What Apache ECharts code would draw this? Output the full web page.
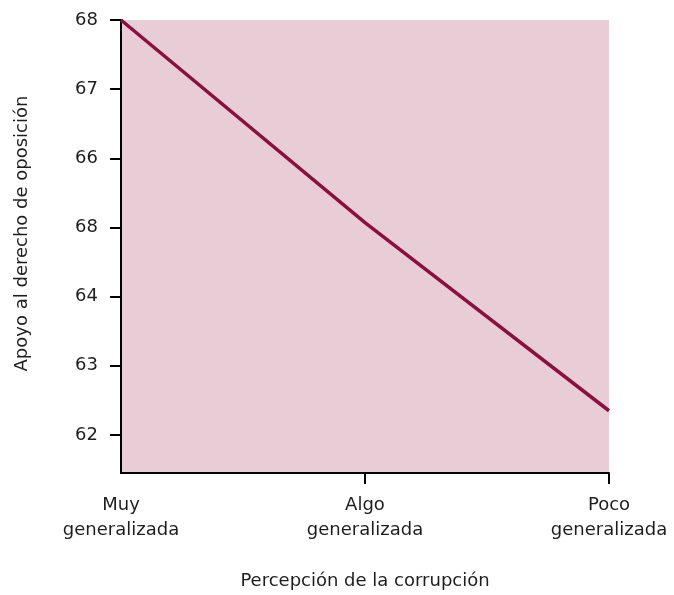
<!DOCTYPE html>
<html>
<head>
<meta charset="utf-8">
<script src="https://cdn.jsdelivr.net/npm/echarts@6/dist/echarts.min.js"></script>
<style>
html,body{margin:0;padding:0;background:#fff;}
#chart{width:674px;height:595px;}
</style>
</head>
<body>
<div id="chart"></div>
<script>
var categories = ['Muy\ngeneralizada', 'Algo\ngeneralizada', 'Poco\ngeneralizada'];
var apoyo = [68.0, 65.07, 62.35];
var yTickValues = [62, 63, 64, 65, 66, 67, 68];
var yTickLabels = ['62', '63', '64', '68', '66', '67', '68'];
var xAxisTitle = 'Percepción de la corrupción';
var yAxisTitle = 'Apoyo al derecho de oposición';

var FONT = 'DejaVu Sans';
var TXT = '#1e1e1e';
var chart = echarts.init(document.getElementById('chart'), null, {renderer: 'canvas'});
chart.setOption({
  animation: false,
  grid: {
    left: 121, right: 65, top: 20, bottom: 122,
    show: true, backgroundColor: '#E8CDD7', borderWidth: 0
  },
  xAxis: {
    type: 'category',
    data: categories,
    boundaryGap: false,
    name: xAxisTitle,
    nameLocation: 'middle',
    nameGap: 99,
    nameTextStyle: {fontFamily: FONT, fontSize: 18, color: TXT},
    axisLine: {lineStyle: {color: '#000', width: 2}},
    axisTick: {
      show: true, length: 11, lineStyle: {color: '#000', width: 2},
      interval: function (idx) { return idx !== 0; }
    },
    axisLabel: {
      fontFamily: FONT, fontSize: 18, color: TXT, lineHeight: 25, margin: 20,
      interval: 0
    },
    splitLine: {show: false}
  },
  yAxis: {
    type: 'value',
    min: 61.45,
    max: 68,
    name: yAxisTitle,
    nameLocation: 'middle',
    nameGap: 90,
    nameTextStyle: {fontFamily: FONT, fontSize: 18, color: TXT, padding: [0, 0, 0, 26]},
    axisLine: {show: true, lineStyle: {color: '#000', width: 2}},
    axisTick: {show: true, length: 11, lineStyle: {color: '#000', width: 2}, customValues: yTickValues},
    axisLabel: {
      fontFamily: FONT, fontSize: 18, color: TXT, margin: 23,
      customValues: yTickValues,
      formatter: function (v) {
        var i = yTickValues.indexOf(Math.round(v));
        return i >= 0 ? yTickLabels[i] : '';
      }
    },
    splitLine: {show: false}
  },
  series: [{
    type: 'line',
    data: apoyo,
    symbol: 'none',
    lineStyle: {color: '#8A1040', width: 3.5},
    clip: false
  }]
});
</script>
</body>
</html>
